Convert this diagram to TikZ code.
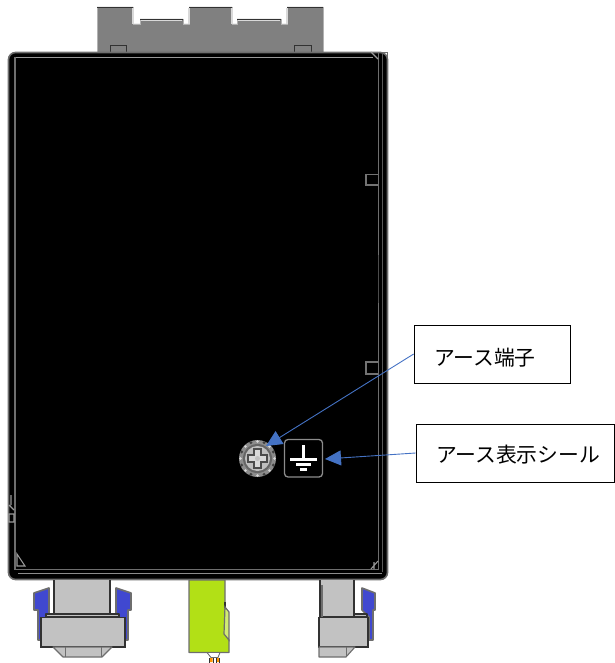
\documentclass[tikz,border=0pt]{standalone}
\usepackage{fontspec}
\setmainfont{Noto Sans CJK JP}
\definecolor{arrowblue}{RGB}{68,114,196}
\definecolor{cliblue}{RGB}{64,72,208}
\definecolor{lime}{RGB}{178,224,22}
\definecolor{lightg}{RGB}{194,194,194}
\definecolor{topg}{RGB}{128,128,128}
\definecolor{edgeg}{RGB}{110,110,110}
\definecolor{darkl}{RGB}{50,50,50}
\usetikzlibrary{arrows.meta}
\tikzset{
  x=1pt,y=-1pt,
  labelbox/.style={draw=black,line width=0.7pt,fill=white,inner sep=0pt,font=\fontsize{20.8}{22}\selectfont},
  callout/.style={draw=arrowblue,line width=0.9pt,-{Triangle[length=16pt,width=15pt]}},
  part/.style={fill=lightg,draw=darkl,line width=1.1pt,line join=round},
  clipblue/.style={fill=cliblue,draw=edgeg,line width=1.6pt,line join=round},
  bodyline/.style={draw=edgeg,line width=1.6pt},
}
\begin{document}
\begin{tikzpicture}
\useasboundingbox (0,0) rectangle (614,663);
% top connector
\path[fill=topg,draw=white!70!black,line width=0.8pt] (97,52) -- (97,7) -- (133,7) -- (133,24) -- (140,24) -- (140,19) -- (183,19) -- (183,24) -- (189,24) -- (189,7) -- (232,7) -- (232,24) -- (237,24) -- (237,19) -- (281,19) -- (281,24) -- (287,24) -- (287,7) -- (323,7) -- (323,52) -- cycle;
\draw[darkl,line width=0.9pt] (97,7) -- (133,7) (140,19) -- (183,19) (189,7) -- (232,7) (237,19) -- (281,19) (287,7) -- (323,7);
\draw[white!85!black,line width=1.2pt] (133,8) -- (133,24) (232,8) -- (232,24) (189,8) -- (189,24) (287,8) -- (287,24) (141,20.5) -- (182,20.5) (238,20.5) -- (280,20.5);
\draw[darkl,line width=0.9pt] (110,52) -- (110,45) -- (126,45) -- (126,52) (294,52) -- (294,45) -- (311,45) -- (311,52);
% body
\path[fill=black,draw=edgeg,line width=1.6pt,rounded corners=7pt] (8.5,52.5) -- (8.5,579.5) -- (387.5,579.5) -- (387.5,52.5) -- cycle;
\draw[edgeg,line width=1.4pt] (376,52.5) -- (387.5,52.5) -- (387.5,70);
\draw[white!60!black,line width=1.3pt] (15,57.5) -- (373,57.5);
\draw[bodyline] (15,57.5) -- (15,569.5) -- (378,569.5);
\draw[bodyline] (378.5,53) -- (378.5,255);
\draw[black!70!white,line width=1.2pt] (378.5,255) -- (378.5,303);
\draw[bodyline] (378.5,303) -- (378.5,570);
\draw[white!35!black,line width=1.2pt] (382.5,53) -- (382.5,572);
\draw[white!55!black,line width=1.3pt] (18,573.5) -- (382,573.5);
\draw[white!60!black,line width=1.2pt] (371,52) -- (378,59);
\draw[white!60!black,line width=1.1pt] (17,554) -- (17,566) -- (25,566) -- cycle;
\draw[white!60!black,line width=1.1pt] (371,569) -- (378,561) (374,569) -- (374,562);
\draw[white!60!black,line width=1.2pt] (11,495) -- (11,505) (9,505) -- (14,510) (9,514) rectangle (14,522);
% side squares
\draw[white!45!black,line width=1.6pt] (378,174.5) -- (366,174.5) -- (366,185) -- (378,185);
\draw[white!45!black,line width=1.6pt] (378,362) -- (366,362) -- (366,374) -- (378,374);
% earth screw
\fill[white!55!black] (257.5,458.5) circle (18.5);
\foreach \a in {0,45,...,315}{\fill[white!25!black] (257.5,458.5) ++(\a+22.5:17.2) circle (1.6);}
\foreach \a in {0,45,...,315}{\fill[white!85!black] (257.5,458.5) ++(\a:17) circle (1.4);}
\fill[white!40!black] (257.5,458.5) circle (14.5);
\fill[white!75!black] (257.5,458.5) circle (12.5);
\path[fill=white!85!black,draw=white!30!black,line width=1.1pt] (254,449) -- (261,449) -- (261,455) -- (267,455) -- (267,462) -- (261,462) -- (261,468) -- (254,468) -- (254,462) -- (248,462) -- (248,455) -- (254,455) -- cycle;
\fill[white!75!black] (257.5,458.5) circle (2.5);
% earth mark
\path[draw=white!55!black,line width=1.3pt,rounded corners=3.5pt] (284.5,439.5) rectangle (322.5,477);
\draw[white,line width=2.2pt] (303.5,445) -- (303.5,458);
\draw[white,line width=2.4pt] (290,459.5) -- (317,459.5);
\draw[white,line width=2.4pt] (296,464.5) -- (311,464.5);
\draw[white,line width=2.4pt] (300,469.5) -- (307,469.5);
% left bottom connector
\path[clipblue] (34,593) -- (49,588) -- (49,615) -- (46,620) -- (46,640) -- (38,640) -- (38,610) -- (34,610) -- cycle;
\path[clipblue] (131,593) -- (116,588) -- (116,615) -- (120,620) -- (125,640) -- (128,640) -- (128,610) -- (131,610) -- cycle;
\path[part] (54,580) -- (54,617) -- (110,617) -- (110,580);
\path[part] (46,614) -- (119,614) -- (119,617) -- (46,617) -- cycle;
\path[fill=lightg,draw=darkl,line width=1.2pt] (41,617.5) rectangle (125,647);
\path[part,draw=edgeg] (53,647) -- (63,657) -- (102,657) -- (112,647) -- cycle;
\draw[edgeg,line width=0.9pt] (65,647) -- (65,657) (101,647) -- (101,657);
% middle green module
\path[fill=lime,draw=edgeg,line width=1.3pt,line join=round] (189,580) -- (189,652.5) -- (229,652.5) -- (229,640) -- (225,634) -- (225,580) -- cycle;
\path[fill=white,draw=edgeg,line width=0.9pt] (207,652.5) -- (211,657.5) -- (218,657.5) -- (220,652.5) -- cycle;
\draw[darkl,line width=1.4pt] (225,602) -- (225,608);
\path[fill=lime!60!white,draw=edgeg,line width=1.2pt] (225,607) -- (229,612) -- (229,640) -- (224,634) -- cycle;
\fill[orange!85!yellow] (210,658) rectangle (212.5,662) (216.5,658) rectangle (219,662);
\draw[darkl,line width=0.9pt] (209.5,658) -- (209.5,663) (213,658) -- (213,663) (216,658) -- (216,663) (219.5,658) -- (219.5,663);
% right bottom connector
\path[clipblue] (362,588) -- (375,593) -- (375,610) -- (373,610) -- (373,640) -- (369,640) -- (369,617) -- (362,610) -- cycle;
\path[part] (320,580) -- (320,617) -- (354,617) -- (354,580);
\draw[edgeg,line width=1.4pt] (322,585) -- (322,617);
\path[part] (354,614) -- (367,614) -- (367,617) -- (354,617) -- cycle;
\path[fill=lightg,draw=darkl,line width=1.2pt] (319,617.5) rectangle (368,647);
\path[part,draw=edgeg] (319,647) -- (319,657) -- (346,657) -- (355,647) -- cycle;
\draw[edgeg,line width=0.9pt] (346,647) -- (346,657);
% labels
\node[labelbox,minimum width=156pt,minimum height=58pt,text width=136pt,align=left,text height=22pt,text depth=0pt] (lblA) at (492,354) {\hspace*{10pt}アース端子};
\node[labelbox,minimum width=198pt,minimum height=58pt,text width=186pt,align=left,text height=18pt,text depth=0pt] (lblB) at (515,453) {\hspace*{14pt}アース表示シール};
\coordinate (screw) at (266,446);
\coordinate (mark) at (325,459);
\draw[callout] (lblA.west) -- (screw);
\draw[callout] (lblB.west) -- (mark);
\end{tikzpicture}
\end{document}
